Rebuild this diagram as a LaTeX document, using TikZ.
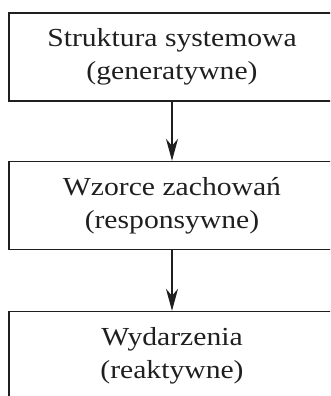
\documentclass[tikz,border=0pt]{standalone}
\usepackage{fontspec}
\setmainfont{Liberation Serif}[FakeStretch=1.14]
\usetikzlibrary{arrows.meta}
\tikzset{
  levelbox/.style={draw=black!88, line width=1.4pt, rectangle,
    minimum width=326pt, minimum height=88pt, inner sep=0pt,
    align=center, text=black!88,
    font=\fontsize{26}{33}\selectfont},
  flow/.style={draw=black!88, line width=1.2pt,
    -{Stealth[length=22pt,width=12pt,inset=7pt]}}
}
\begin{document}
\begin{tikzpicture}[x=1pt,y=1pt]
  \useasboundingbox (0,0) rectangle (330,-396);
  \clip (0,0) rectangle (330,-396);
  \node[levelbox] (struct) at (172,-57)
    {Struktura systemowa\\(generatywne)};
  \node[levelbox] (patterns) at (172,-205.5)
    {Wzorce zachowań\\(responsywne)};
  \node[levelbox] (events) at (172,-355.5)
    {Wydarzenia\\(reaktywne)};
  \draw[flow] (struct.south) -- (patterns.north);
  \draw[flow] (patterns.south) -- (events.north);
\end{tikzpicture}
\end{document}
